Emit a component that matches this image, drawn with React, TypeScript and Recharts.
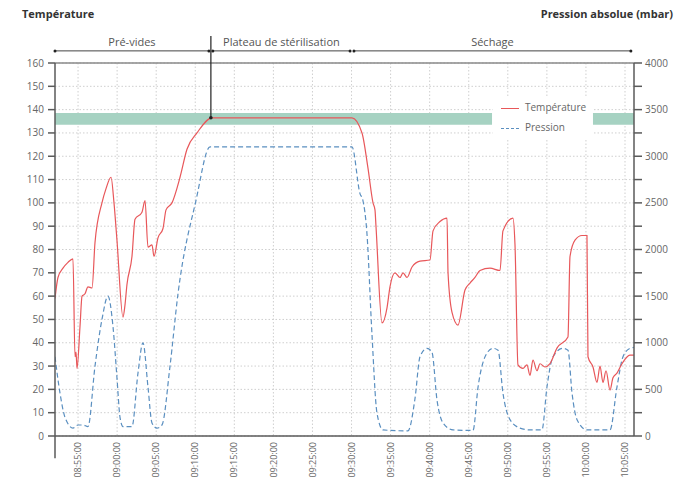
import React from "react";
import {
  LineChart,
  Line,
  XAxis,
  YAxis,
  CartesianGrid,
  ReferenceArea,
  ReferenceLine,
  ReferenceDot,
} from "recharts";

// time in minutes after 08:50:00
const tempTimes = [
  2.05, 2.43, 3.07, 3.71, 4.35, 4.61, 4.74, 4.87, 5.25, 5.51, 5.89, 6.27, 6.79, 7.17, 8.06, 8.57, 9.22, 9.6,
  9.98, 10.75, 11.0, 11.26, 11.9, 12.29, 13.18, 13.57, 13.95, 14.46, 14.72, 15.23, 15.87, 16.26, 17.02, 18.05,
  18.94, 20.22, 22.14, 40.06, 41.34, 42.1, 42.75, 43.0, 43.13, 43.9, 44.54, 44.92, 45.56, 46.2, 46.59, 47.1,
  47.74, 48.76, 50.04, 50.43, 51.32, 52.22, 52.35, 52.86, 53.62, 54.52, 55.16, 55.8, 56.44, 57.72, 59.0, 59.38,
  60.66, 60.92, 61.3, 61.94, 62.45, 62.84, 63.22, 63.73, 64.12, 64.76, 65.4, 66.29, 67.7, 67.96, 68.6, 69.49,
  70.13, 70.26, 70.9, 71.41, 71.8, 72.18, 72.57, 73.08, 73.46, 73.97, 74.61, 75.63, 76.14,
];
const tempValues = [
  59, 68, 72, 74.5, 76, 34, 36, 29, 47, 60, 61, 64, 63.5, 83, 100, 106, 111, 100,
  84, 51, 56, 65, 77, 93, 96, 101, 81, 82, 77, 85, 89, 97, 100, 111,
  123, 130, 136.5, 136.5, 130, 115, 100, 97, 90, 48.5, 55, 64, 70, 68, 70, 68,
  72.5, 75, 75.5, 88, 92, 93.5, 70, 53, 47.6, 62.6, 65.6, 68, 71, 72, 71, 88,
  93.5, 82, 30.5, 29, 30.5, 26, 32.6, 28, 31, 29.6, 31, 37.7, 42.5, 77, 84, 86,
  86, 34, 29.6, 23, 30, 23, 28, 19.7, 25, 27, 31, 34.7, 34.7,
];

const pressTimes = [
  2.05, 2.69, 3.33, 4.35, 4.99, 5.63, 6.27, 7.17, 8.06, 8.83, 9.47, 9.98, 10.37, 10.75, 11.9, 12.67, 13.31,
  13.95, 14.46, 15.1, 15.74, 16.77, 17.79, 20.09, 21.89, 40.06, 41.08, 41.46, 41.97, 42.61,
  43.25, 44.02, 47.22, 48.12, 48.76, 49.65, 50.29, 50.94, 51.71, 52.99, 55.55, 56.19, 57.34, 58.11, 58.75,
  59.38, 60.28, 61.56, 62.84, 64.37, 65.01, 65.78, 67.06, 67.7, 68.22, 68.86, 70.13, 73.08, 73.97, 74.74,
  75.63, 76.14,
];
const pressValues = [
  850, 460, 200, 85, 118, 118, 100, 750, 1250, 1500, 1175, 625, 200, 100, 100, 675, 1000,
  525, 140, 85, 118, 750, 1525, 2525, 3100, 3100, 2600, 2525, 2175, 1100,
  250, 65, 55, 400, 850, 940, 900, 385, 140, 65, 60, 525, 890, 940, 920,
  460, 175, 85, 65, 65, 525, 850, 940, 920, 460, 175, 65, 65, 525, 850,
  940, 950,
];

const xTicks = [5, 10, 15, 20, 25, 30, 35, 40, 45, 50, 55, 60, 65, 70, 75];
const xTickLabels = [
  "08:55:00", "09:00:00", "09:05:00", "09:10:00", "09:15:00", "09:20:00", "09:25:00", "09:30:00",
  "09:35:00", "09:40:00", "09:45:00", "09:50:00", "09:55:00", "10:00:00", "10:05:00",
];
const leftTicks = [0, 10, 20, 30, 40, 50, 60, 70, 80, 90, 100, 110, 120, 130, 140, 150, 160];
const rightTicks = [0, 250, 500, 750, 1000, 1250, 1500, 1750, 2000, 2250, 2500, 2750, 3000, 3250, 3500, 3750, 4000];

const phaseNames = ["Pré-vides", "Plateau de stérilisation", "Séchage"];
const phaseBounds = [2.05, 22.0, 40.06, 76.0];

const tempData = tempTimes.map((t, i) => ({ t, v: tempValues[i] }));
const pressData = pressTimes.map((t, i) => ({ t, v: pressValues[i] }));

const X_MIN = 2.05;
const X_MAX = 76.15;
const BAND_LOW = 133.5;
const BAND_HIGH = 138.5;
const PHASE_Y = 165.2;

const RED = "#e8575a";
const BLUE = "#5a8fc0";
const AXIS = "#5a5a5a";
const TXT = "#666";

const XTick = (props: any) => {
  const { x, y, payload } = props;
  const idx = xTicks.indexOf(payload.value);
  const label = idx >= 0 ? xTickLabels[idx] : "";
  return (
    <text
      x={x}
      y={y}
      transform={`rotate(-90 ${x} ${y})`}
      textAnchor="end"
      dy="0.35em"
      fontSize={9}
      fill={TXT}
    >
      {label}
    </text>
  );
};

const RightTick = (props: any) => {
  const { x, y, payload } = props;
  if (payload.value % 500 !== 0) return <g />;
  return (
    <text x={x} y={y} dy="0.35em" textAnchor="start" fontSize={10} fill={TXT}>
      {payload.value}
    </text>
  );
};

export default function App() {
  return (
    <div
      style={{
        position: "absolute",
        left: 0,
        top: 0,
        width: 687,
        height: 480,
        background: "#fff",
        fontFamily: "'Open Sans', sans-serif",
      }}
    >
      <div style={{ position: "absolute", left: 22, top: 6, fontSize: 11, fontWeight: 700, color: "#333" }}>
        Température
      </div>
      <div
        style={{ position: "absolute", right: 14, top: 6, fontSize: 11, fontWeight: 700, color: "#333" }}
      >
        Pression absolue (mbar)
      </div>
      <LineChart
        width={687}
        height={480}
        margin={{ top: 63, right: 8, bottom: 0, left: 15 }}
        style={{ position: "absolute", left: 0, top: 0 }}
      >
        <CartesianGrid
          stroke="#cfcfcf"
          strokeDasharray="1.5 2"
          horizontalValues={leftTicks}
          verticalValues={xTicks}
        />
        <XAxis
          dataKey="t"
          type="number"
          domain={[X_MIN, X_MAX]}
          ticks={xTicks}
          interval={0}
          allowDataOverflow
          tick={<XTick />}
          tickLine={false}
          tickSize={0}
          tickMargin={6}
          height={44}
          stroke={AXIS}
          strokeWidth={1.5}
        />
        <YAxis
          domain={[0, 160]}
          ticks={leftTicks}
          interval={0}
          width={40}
          tickSize={7}
          tickMargin={4}
          tick={{ fontSize: 10, fill: TXT }}
          stroke={AXIS}
          strokeWidth={1.5}
        />
        <YAxis
          yAxisId="right"
          orientation="right"
          domain={[0, 4000]}
          ticks={rightTicks}
          interval={0}
          width={45}
          tickSize={8}
          tickMargin={3}
          tick={<RightTick />}
          stroke={AXIS}
          strokeWidth={1.5}
        />
        <ReferenceArea
          x1={X_MIN}
          x2={57.98}
          y1={BAND_LOW}
          y2={BAND_HIGH}
          fill="#a6d2c2"
          fillOpacity={1}
          stroke="none"
        />
        <ReferenceArea
          x1={70.9}
          x2={X_MAX}
          y1={BAND_LOW}
          y2={BAND_HIGH}
          fill="#a6d2c2"
          fillOpacity={1}
          stroke="none"
        />
        <ReferenceLine y={160} stroke="#8a8a8a" strokeWidth={1.5} />
        <ReferenceLine
          segment={[
            { x: X_MIN, y: 0 },
            { x: X_MIN, y: -9.5 },
          ]}
          ifOverflow="visible"
          stroke={AXIS}
          strokeWidth={1.5}
        />
        {phaseNames.map((name, i) => (
          <ReferenceLine
            key={name}
            segment={[
              { x: phaseBounds[i] + (i === 0 ? 0 : 0.25), y: PHASE_Y },
              { x: phaseBounds[i + 1] - 0.25, y: PHASE_Y },
            ]}
            ifOverflow="visible"
            stroke="#444"
            strokeWidth={1}
            label={{ value: name, position: "top", fontSize: 11, fill: "#555", offset: 5 }}
          />
        ))}
        {phaseNames.map((name, i) => (
          <ReferenceDot
            key={name + "a"}
            x={phaseBounds[i] + (i === 0 ? 0 : 0.25)}
            y={PHASE_Y}
            r={1.5}
            fill="#222"
            stroke="none"
            ifOverflow="visible"
          />
        ))}
        {phaseNames.map((name, i) => (
          <ReferenceDot
            key={name + "b"}
            x={phaseBounds[i + 1] - 0.25}
            y={PHASE_Y}
            r={1.5}
            fill="#222"
            stroke="none"
            ifOverflow="visible"
          />
        ))}
        <ReferenceLine
          segment={[
            { x: phaseBounds[1], y: 171.6 },
            { x: phaseBounds[1], y: 136.5 },
          ]}
          ifOverflow="visible"
          stroke="#222"
          strokeWidth={1.2}
        />
        <Line
          data={pressData}
          dataKey="v"
          yAxisId="right"
          type="monotone"
          stroke={BLUE}
          strokeWidth={1.2}
          strokeDasharray="5 3"
          dot={false}
          isAnimationActive={false}
        />
        <Line
          data={tempData}
          dataKey="v"
          type="monotone"
          stroke={RED}
          strokeWidth={1.2}
          dot={false}
          isAnimationActive={false}
        />
        <ReferenceDot x={phaseBounds[1]} y={136.5} r={1.8} fill="#222" stroke="none" ifOverflow="visible" />
      </LineChart>
      <div
        style={{
          position: "absolute",
          left: 493,
          top: 98,
          width: 99,
          height: 42,
          background: "#fff",
          fontSize: 10,
          color: TXT,
        }}
      >
        <div style={{ position: "absolute", left: 8, top: 10, width: 18, height: 1.3, background: RED }} />
        <div style={{ position: "absolute", left: 32, top: 2, whiteSpace: "nowrap" }}>Température</div>
        <div
          style={{
            position: "absolute",
            left: 8,
            top: 30,
            width: 18,
            height: 0,
            borderTop: `1.3px dashed ${BLUE}`,
          }}
        />
        <div style={{ position: "absolute", left: 32, top: 22, whiteSpace: "nowrap" }}>Pression</div>
      </div>
    </div>
  );
}
